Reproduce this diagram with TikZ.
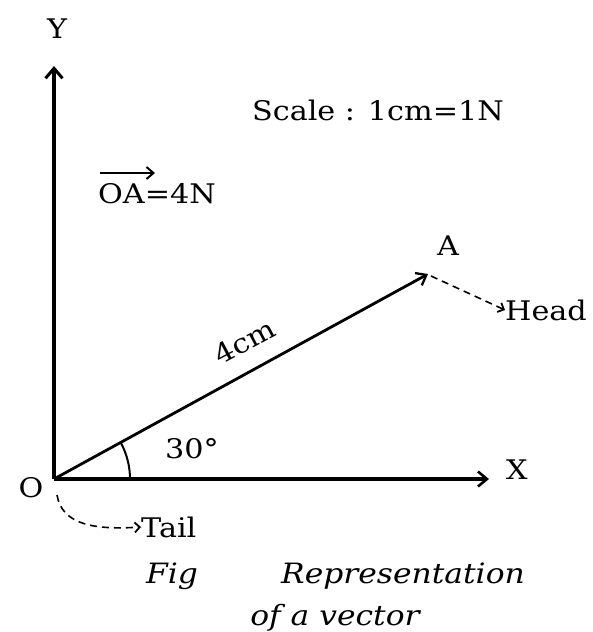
\documentclass[tikz,border=0pt]{standalone}
\usepackage{fontspec}
\setmainfont{DejaVu Serif}[FakeStretch=1.12]
\usetikzlibrary{arrows.meta,calc}
\begin{document}
\begin{tikzpicture}[x=1pt,y=-1pt,
  lbl/.style={font=\fontsize{27}{30}\selectfont, inner sep=0pt},
  captext/.style={font=\fontsize{28}{30}\selectfont\itshape, inner sep=0pt},
  axis/.style={line width=4pt,-{Straight Barb[length=10pt,width=17pt,line width=3pt]}},
  vec/.style={line width=2.8pt,-{Straight Barb[length=9pt,width=14pt,line width=2.3pt]}},
  pointer/.style={line width=1.6pt,dash pattern=on 7pt off 5pt,-{Straight Barb[length=5pt,width=10pt,line width=1.8pt]}}]
\useasboundingbox (0,0) rectangle (592,632);
\coordinate (O) at (54,479);
\coordinate (Ytip) at (54,66);
\coordinate (Xtip) at (489,479);
\coordinate (A) at (428,274);
\draw[axis] (O) -- (Ytip);
\draw[axis,line width=3.6pt,-{Straight Barb[length=9pt,width=15pt,line width=2.6pt]}] (O) -- (Xtip);
\draw[vec] (O) -- (A);
\draw[line width=2pt] ($(O)+(76,0)$) arc[start angle=0,end angle=-28,radius=76];
\node[lbl] (Y) at (57,29) {Y};
\node[lbl] (X) at (517,470) {X};
\node[lbl] (Olbl) at (31,488) {O};
\node[lbl] (Albl) at (448,246) {A};
\node[lbl] (Head) at (546,310) {Head};
\node[lbl,anchor=west] (Tail) at (141,527) {Tail};
\node[lbl] (scale) at (378,110) {Scale : 1cm=1N};
\node[lbl] (OA) at (157,194) {OA=4N};
\draw[line width=2.6pt,-{Straight Barb[length=7pt,width=12pt,line width=2pt]}] (100,173) -- (155,173);
\node[lbl,rotate=28] (len) at (245,342) {4cm};
\node[lbl] (ang) at (192,449) {30°};
\coordinate (hs) at (431,276);
\draw[pointer] (hs) -- (Head.west);
\coordinate (ts) at (57,495);
\draw[pointer] (ts) .. controls (62,525) and (95,530) .. (Tail.west);
\node[captext] (fig) at (172,576) {Fig};
\node[captext] (rep) at (403,576) {Representation};
\node[captext] (ofv) at (335,618) {of a vector};
\end{tikzpicture}
\end{document}
